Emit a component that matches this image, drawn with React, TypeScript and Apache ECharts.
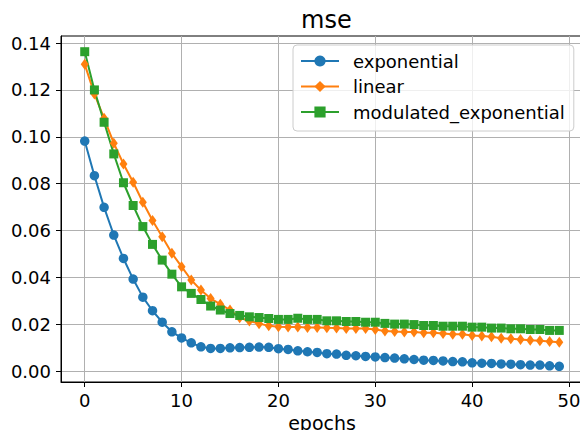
import React, { useEffect, useRef } from "react";
import * as echarts from "echarts";

const epochs = [
  0, 1, 2, 3, 4, 5, 6, 7, 8, 9, 10, 11, 12, 13, 14, 15, 16, 17, 18, 19, 20, 21, 22, 23, 24,
  25, 26, 27, 28, 29, 30, 31, 32, 33, 34, 35, 36, 37, 38, 39, 40, 41, 42, 43, 44, 45, 46, 47, 48, 49,
];

const exponential = [
  0.0982, 0.0834, 0.0699, 0.0581, 0.0481, 0.0393, 0.0316, 0.0258, 0.0209, 0.0168,
  0.0142, 0.0121, 0.0104, 0.0097, 0.0097, 0.01, 0.0101, 0.0102, 0.0103, 0.0102,
  0.0096, 0.0093, 0.0087, 0.0083, 0.008, 0.0075, 0.0073, 0.0068, 0.0066, 0.0063,
  0.0061, 0.0058, 0.0056, 0.0053, 0.005, 0.0047, 0.0046, 0.0044, 0.0041, 0.004,
  0.0036, 0.0034, 0.0033, 0.0031, 0.003, 0.0028, 0.0026, 0.0026, 0.0023, 0.0021,
];

const linear = [
  0.1309, 0.1183, 0.1079, 0.0973, 0.0884, 0.0806, 0.0721, 0.0643, 0.0574, 0.0503,
  0.0446, 0.0389, 0.0346, 0.031, 0.0286, 0.0261, 0.0228, 0.0214, 0.0203, 0.0194,
  0.019, 0.0189, 0.0189, 0.0187, 0.0187, 0.0185, 0.0184, 0.0182, 0.0182, 0.0182,
  0.0178, 0.0172, 0.0169, 0.0167, 0.0167, 0.0164, 0.0164, 0.0161, 0.0158, 0.0158,
  0.0152, 0.015, 0.0147, 0.0141, 0.0138, 0.0135, 0.0132, 0.013, 0.0127, 0.0124,
];

const modulatedExponential = [
  0.1363, 0.12, 0.1062, 0.0927, 0.0804, 0.0707, 0.0617, 0.0541, 0.0474, 0.0414,
  0.036, 0.0332, 0.0306, 0.0278, 0.0261, 0.0246, 0.0238, 0.0232, 0.0229, 0.0225,
  0.0221, 0.0221, 0.0226, 0.0221, 0.0221, 0.0215, 0.0215, 0.0212, 0.0212, 0.0209,
  0.0209, 0.0204, 0.0201, 0.0201, 0.0199, 0.0195, 0.0195, 0.0192, 0.0192, 0.0192,
  0.0188, 0.0188, 0.0184, 0.0184, 0.0181, 0.0181, 0.0178, 0.0178, 0.0174, 0.0174,
];

const xTicks = [0, 10, 20, 30, 40, 50];
const yTicks = [0, 0.02, 0.04, 0.06, 0.08, 0.1, 0.12, 0.14];

const FONT = "DejaVu Sans";

export default function App() {
  const ref = useRef<HTMLDivElement>(null);

  useEffect(() => {
    if (!ref.current) return;
    const chart = echarts.init(ref.current, undefined, { renderer: "svg" });
    const pairs = (vals: number[]) => epochs.map((e, i) => [e, vals[i]]);
    const mkSeries = (name: string, vals: number[], color: string, symbol: string, size: any) => ({
      name,
      type: "line",
      data: pairs(vals),
      symbol,
      symbolSize: size,
      showSymbol: true,
      lineStyle: { color, width: 2 },
      itemStyle: { color },
      emphasis: { disabled: true },
    });
    chart.setOption({
      animation: false,
      textStyle: { fontFamily: FONT },
      title: {
        text: "mse",
        left: 296,
        top: 3,
        textStyle: { fontFamily: FONT, fontSize: 24, fontWeight: "normal", color: "#000" },
      },
      grid: {
        left: 61,
        right: 7,
        top: 36,
        bottom: 48,
        outerBoundsMode: "none",
        containLabel: false,
        show: true,
        borderColor: "#000",
        borderWidth: 1,
        backgroundColor: "transparent",
      },
      legend: {
        orient: "vertical",
        left: 293,
        top: 45,
        padding: [7, 9, 10, 7],
        itemWidth: 38,
        itemHeight: 14,
        itemGap: 7.5,
        backgroundColor: "rgba(255,255,255,0.8)",
        borderColor: "#cccccc",
        borderWidth: 1,
        borderRadius: 4,
        textStyle: { fontFamily: FONT, fontSize: 18, color: "#000", padding: [0, 0, 0, 9], lineHeight: 18 },
        data: ["exponential", "linear", "modulated_exponential"],
      },
      xAxis: {
        type: "value",
        min: -2.45,
        max: 51.45,
        name: "epochs",
        nameLocation: "middle",
        nameGap: 31,
        nameTextStyle: { fontFamily: FONT, fontSize: 19, color: "#000" },
        axisLine: { onZero: false, lineStyle: { color: "#000", width: 1 } },
        axisTick: { customValues: xTicks, length: 5, lineStyle: { color: "#000" } },
        axisLabel: { customValues: xTicks, fontFamily: FONT, fontSize: 18, color: "#000", margin: 9 },
        splitLine: { show: true, lineStyle: { color: "#b0b0b0", width: 1 } },
      },
      yAxis: {
        type: "value",
        min: -0.0046,
        max: 0.143,
        axisLine: { onZero: false, lineStyle: { color: "#000", width: 1 } },
        axisTick: { customValues: yTicks, length: 5, lineStyle: { color: "#000" } },
        axisLabel: {
          customValues: yTicks,
          fontFamily: FONT,
          fontSize: 18,
          color: "#000",
          margin: 10,
          formatter: (v: number) => v.toFixed(2),
        },
        splitLine: { show: true, lineStyle: { color: "#b0b0b0", width: 1 } },
      },
      series: [
        mkSeries("exponential", exponential, "#1f77b4", "circle", 9.5),
        mkSeries("linear", linear, "#ff7f0e", "diamond", [8, 11]),
        mkSeries("modulated_exponential", modulatedExponential, "#2ca02c", "rect", 9),
      ],
    });
    return () => chart.dispose();
  }, []);

  return (
    <div style={{ position: "fixed", left: 0, top: 0, width: 580, height: 430, overflow: "hidden", background: "#fff" }}>
      <div ref={ref} style={{ width: 590, height: 430 }} />
    </div>
  );
}
